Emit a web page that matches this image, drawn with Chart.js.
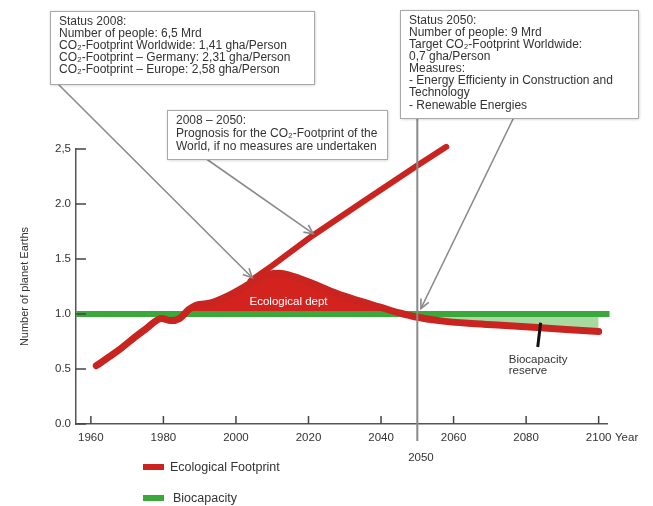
<!DOCTYPE html>
<html>
<head>
<meta charset="utf-8">
<script src="https://cdn.jsdelivr.net/npm/chart.js@4/dist/chart.umd.min.js"></script>
<style>
  body { margin: 0; background: #fff; }
</style>
</head>
<body>
<canvas id="chart" width="653" height="506"></canvas>
<script>
// ecological footprint (history + path with measures)
var footYears  = [1961.5, 1965, 1968, 1971, 1975, 1979.5, 1982, 1984.5, 1987, 1989, 1993, 1997.5, 2003, 2006, 2009, 2012, 2016, 2021, 2026, 2032, 2040, 2045, 2050, 2056, 2064, 2072, 2082, 2091, 2100];
var footValues = [0.53, 0.61, 0.68, 0.76, 0.86, 0.96, 0.94, 0.96, 1.04, 1.08, 1.10, 1.16, 1.26, 1.32, 1.36, 1.37, 1.34, 1.28, 1.21, 1.14, 1.06, 1.01, 0.97, 0.94, 0.915, 0.90, 0.88, 0.86, 0.84];
// prognosis if no measures are undertaken
var progYears  = [2004, 2010, 2021, 2035, 2050, 2058];
var progValues = [1.30, 1.44, 1.71, 2.02, 2.35, 2.52];
// biocapacity
var bioYears  = [1956, 2103];
var bioValues = [1, 1];

var xTicks = [1960, 1980, 2000, 2020, 2040, 2060, 2080, 2100];
var yTicks = [0, 0.5, 1, 1.5, 2, 2.5];
var yTickLabels = ['0.0', '0.5', '1.0', '1.5', '2.0', '2,5'];

var RED = '#c9241f', GREEN = '#3aa83a', LIGHTGREEN = '#a6daa0';
var FONT = '"Liberation Sans", Arial, "DejaVu Sans", sans-serif';
Chart.defaults.font.family = FONT;

function pts(xs, ys) {
    return xs.map(function (x, i) { return { x: x, y: ys[i] }; });
}
var footPts = pts(footYears, footValues);
var reservePts = footPts.filter(function (p) { return p.x >= 2050; });

var notes = {
    id: 'notes',
    afterDatasetsDraw: function (chart) {
        var ctx = chart.ctx, xs = chart.scales.x, ys = chart.scales.y;
        function px(v) { return xs.getPixelForValue(v); }
        function py(v) { return ys.getPixelForValue(v); }
        var bottom = chart.chartArea.bottom, left = chart.chartArea.left;

        ctx.save();
        // tick marks, pointing inside
        ctx.strokeStyle = '#444';
        ctx.lineWidth = 1.5;
        xTicks.forEach(function (t) {
            ctx.beginPath(); ctx.moveTo(px(t), bottom); ctx.lineTo(px(t), bottom - 8); ctx.stroke();
        });
        yTicks.forEach(function (t) {
            ctx.beginPath(); ctx.moveTo(left, py(t)); ctx.lineTo(left + 10, py(t)); ctx.stroke();
        });

        // 2050 line
        ctx.strokeStyle = '#8a8a8a';
        ctx.lineWidth = 2;
        ctx.beginPath(); ctx.moveTo(px(2050), 118); ctx.lineTo(px(2050), bottom + 17); ctx.stroke();

        // arrows
        function arrow(x1, y1, x2, y2) {
            ctx.beginPath(); ctx.moveTo(x1, y1); ctx.lineTo(x2, y2); ctx.stroke();
            var a = Math.atan2(y2 - y1, x2 - x1), h = 10;
            ctx.beginPath();
            ctx.moveTo(x2 - h * Math.cos(a - 0.45), y2 - h * Math.sin(a - 0.45));
            ctx.lineTo(x2, y2);
            ctx.lineTo(x2 - h * Math.cos(a + 0.45), y2 - h * Math.sin(a + 0.45));
            ctx.stroke();
        }
        ctx.strokeStyle = '#8a8a8a';
        ctx.lineWidth = 1.6;
        arrow(58, 84, px(2004.5), py(1.33));
        arrow(205, 158, px(2021.3), py(1.73));
        arrow(514, 117, px(2051), py(1.05));

        // boxes
        function box(x, y, w, h, lines, step) {
            ctx.save();
            ctx.shadowColor = 'rgba(0,0,0,0.25)';
            ctx.shadowBlur = 3;
            ctx.shadowOffsetX = 1;
            ctx.shadowOffsetY = 1;
            ctx.fillStyle = '#fff';
            ctx.fillRect(x, y, w, h);
            ctx.restore();
            ctx.strokeStyle = '#a8a8a8';
            ctx.lineWidth = 1;
            ctx.strokeRect(x + 0.5, y + 0.5, w, h);
            ctx.fillStyle = '#333';
            ctx.font = '12px ' + FONT;
            ctx.textAlign = 'left';
            ctx.textBaseline = 'middle';
            lines.forEach(function (l, i) { ctx.fillText(l, x + 9, y + 10.5 + i * step); });
        }
        box(50, 11, 264, 73, [
            'Status 2008:',
            'Number of people: 6,5 Mrd',
            'CO\u2082-Footprint Worldwide: 1,41 gha/Person',
            'CO\u2082-Footprint \u2013 Germany: 2,31 gha/Person',
            'CO\u2082-Footprint \u2013 Europe: 2,58 gha/Person'
        ], 12);
        box(400, 10, 238, 108, [
            'Status 2050:',
            'Number of people: 9 Mrd',
            'Target CO\u2082-Footprint Worldwide:',
            '0,7 gha/Person',
            'Measures:',
            '- Energy Efficienty in Construction and',
            'Technology',
            '- Renewable Energies'
        ], 12.1);
        box(167, 110, 220, 49, [
            '2008 \u2013 2050:',
            'Prognosis for the CO\u2082-Footprint of the',
            'World, if no measures are undertaken'
        ], 13);

        // labels in the plot
        ctx.font = '11.5px ' + FONT;
        ctx.fillStyle = '#fff';
        ctx.textAlign = 'center';
        ctx.fillText('Ecological dept', px(2014.5), py(1.11));

        ctx.strokeStyle = '#111';
        ctx.lineWidth = 3;
        ctx.beginPath(); ctx.moveTo(px(2084), py(0.92)); ctx.lineTo(px(2083.2), py(0.70)); ctx.stroke();
        ctx.fillStyle = '#333';
        ctx.textAlign = 'left';
        ctx.fillText('Biocapacity', px(2075.2), py(0.586));
        ctx.fillText('reserve', px(2075.2), py(0.48));

        // axis extras
        ctx.fillText('Year', 615, bottom + 14);
        ctx.textAlign = 'center';
        ctx.fillText('2050', px(2051), bottom + 34);

        // legend
        var items = [[chart.data.datasets[0], 467, 170], [chart.data.datasets[2], 498, 173]];
        ctx.font = '12.5px ' + FONT;
        ctx.textAlign = 'left';
        items.forEach(function (it) {
            ctx.fillStyle = it[0].borderColor;
            ctx.fillRect(143, it[1] - 3, 21, 6);
            ctx.fillStyle = '#333';
            ctx.fillText(it[0].label, it[2], it[1] + 1);
        });
        ctx.restore();
    }
};

new Chart(document.getElementById('chart'), {
    type: 'line',
    data: {
        datasets: [{
            label: 'Ecological Footprint',
            data: footPts,
            borderColor: RED,
            borderWidth: 7,
            borderCapStyle: 'round',
            borderJoinStyle: 'round',
            cubicInterpolationMode: 'monotone',
            clip: false,
            fill: { target: 2, above: '#d2231f', below: 'rgba(0,0,0,0)' }
        }, {
            label: 'Prognosis',
            data: pts(progYears, progValues),
            borderColor: RED,
            borderWidth: 6,
            borderCapStyle: 'round',
            clip: false,
            fill: false
        }, {
            label: 'Biocapacity',
            data: pts(bioYears, bioValues),
            borderColor: GREEN,
            borderWidth: 6,
            clip: false,
            fill: false
        }, {
            label: 'Biocapacity reserve',
            data: reservePts,
            borderWidth: 0,
            borderColor: 'rgba(0,0,0,0)',
            cubicInterpolationMode: 'monotone',
            clip: false,
            fill: { target: 2, above: 'rgba(0,0,0,0)', below: LIGHTGREEN }
        }]
    },
    options: {
        responsive: false,
        animation: false,
        layout: { padding: { top: 149, right: 46, bottom: 0, left: 0 } },
        elements: { point: { radius: 0 } },
        plugins: {
            legend: { display: false },
            tooltip: { enabled: false },
            filler: { drawTime: 'beforeDatasetsDraw' }
        },
        scales: {
            x: {
                type: 'linear',
                min: 1955.9,
                max: 2102.3,
                grid: { display: false, drawTicks: false },
                border: { color: '#555', width: 1.5 },
                afterBuildTicks: function (s) { s.ticks = xTicks.map(function (v) { return { value: v }; }); },
                afterFit: function (s) { s.height = 82; },
                ticks: {
                    color: '#333', font: { size: 11.5 }, padding: 7,
                    autoSkip: false, maxRotation: 0,
                    callback: function (v) { return String(v); }
                }
            },
            y: {
                min: 0,
                max: 2.5,
                grid: { display: false, drawTicks: false },
                border: { color: '#555', width: 1.5 },
                afterBuildTicks: function (s) { s.ticks = yTicks.map(function (v) { return { value: v }; }); },
                afterFit: function (s) { s.width = 76; },
                ticks: {
                    color: '#333', font: { size: 11.5 }, padding: 5,
                    callback: function (v, i) { return yTickLabels[i]; }
                },
                title: {
                    display: true,
                    text: 'Number of planet Earths',
                    color: '#333',
                    font: { size: 11 },
                    padding: { top: 18, bottom: 0 }
                }
            }
        }
    },
    plugins: [notes]
});
</script>
</body>
</html>
